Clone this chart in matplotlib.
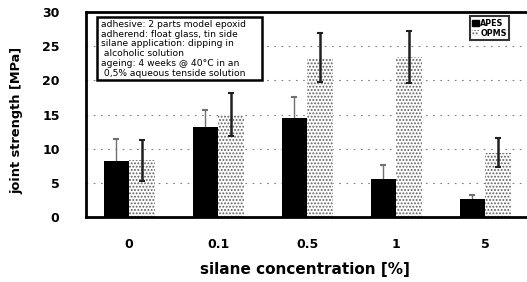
import matplotlib
matplotlib.use("Agg")
import matplotlib.pyplot as plt
import matplotlib.patches as mpatches
import numpy as np

plt.rcParams['font.family'] = ['DejaVu Sans']
plt.rcParams['hatch.linewidth'] = 0.9

categories = ["0", "0.1", "0.5", "1", "5"]
apes_vals = [8.2, 13.2, 14.5, 5.6, 2.6]
apes_err = [3.2, 2.5, 3.1, 2.0, 0.6]
opms_vals = [8.3, 15.0, 23.3, 23.4, 9.4]
opms_err = [3.0, 3.1, 3.6, 3.8, 2.1]
series_names = ["APES", "OPMS"]
yticks = [0, 5, 10, 15, 20, 25, 30]

info_text = ("adhesive: 2 parts model epoxid\n"
             "adherend: float glass, tin side\n"
             "silane application: dipping in\n"
             " alcoholic solution\n"
             "ageing: 4 weeks @ 40\u00b0C in an\n"
             " 0,5% aqueous tenside solution")

fig = plt.figure(figsize=(5.27, 2.82), dpi=100)
ax = fig.add_axes([86/527, (282-217)/282, (527-86)/527, (217-12)/282])

x = np.arange(len(categories))
w = 0.285

ax.errorbar(x - w/2, apes_vals, yerr=apes_err, fmt='none', ecolor='#707070',
            elinewidth=1.0, capsize=2, capthick=1.5, zorder=1)
ax.bar(x - w/2, apes_vals, width=w, color='black', edgecolor='black',
       linewidth=0, zorder=2)
ax.bar(x + w/2, opms_vals, width=w, color='white', edgecolor='#606060',
       hatch='.....', linewidth=0, zorder=2)
ax.errorbar(x + w/2, opms_vals, yerr=opms_err, fmt='none', ecolor='#202020',
            elinewidth=1.8, capsize=2, capthick=1.5, zorder=3)

for yv in yticks[1:-1]:
    ax.axhline(yv, color='#808080', lw=0.8, linestyle=(0, (1.5, 5)), zorder=0)

ax.set_xlim(-0.485, 4.47)
ax.set_ylim(0, 30)
ax.set_yticks(yticks)
ax.set_xticks(x)
ax.set_xticklabels(categories)
ax.tick_params(axis='y', length=0, pad=19, labelsize=9)
ax.tick_params(axis='x', length=0, pad=15, labelsize=9)
for lab in ax.get_xticklabels() + ax.get_yticklabels():
    lab.set_fontweight('bold')

for s in ['left', 'bottom', 'top']:
    ax.spines[s].set_linewidth(2)
ax.spines['right'].set_visible(False)

ax.set_ylabel("joint strength [MPa]", fontweight='bold', fontsize=9.3, labelpad=0)
ax.yaxis.set_label_coords(-63/441, 0.47)
ax.set_xlabel("silane concentration [%]", fontweight='bold', fontsize=11, labelpad=10)
ax.xaxis.set_label_coords((305-86)/441, -45/205)

bx0, bx1 = (97-86)/441, (262-86)/441
by0, by1 = (217-80)/205, (217-17)/205
ax.add_patch(mpatches.Rectangle((bx0, by0), bx1-bx0, by1-by0, transform=ax.transAxes,
                                facecolor='white', edgecolor='black', linewidth=1.8,
                                zorder=4))
ax.text((101-86)/441, (217-20)/205, info_text, transform=ax.transAxes, fontsize=6.6,
        va='top', ha='left', linespacing=1.1, zorder=5)

handles = [mpatches.Patch(facecolor='black', edgecolor='black', label=series_names[0]),
           mpatches.Patch(facecolor='white', edgecolor='#606060', hatch='.....',
                          linewidth=0, label=series_names[1])]
leg = ax.legend(handles=handles, loc='upper right', bbox_to_anchor=(0.96, 0.98),
                fontsize=5.8, frameon=True, fancybox=False, handlelength=0.8,
                handleheight=0.8, handletextpad=0.2, borderpad=0.3,
                labelspacing=0.15, borderaxespad=0)
leg.get_frame().set_edgecolor('black')
leg.get_frame().set_linewidth(1.5)
for t in leg.get_texts():
    t.set_fontweight('bold')

fig.savefig("out.png", dpi=100)
